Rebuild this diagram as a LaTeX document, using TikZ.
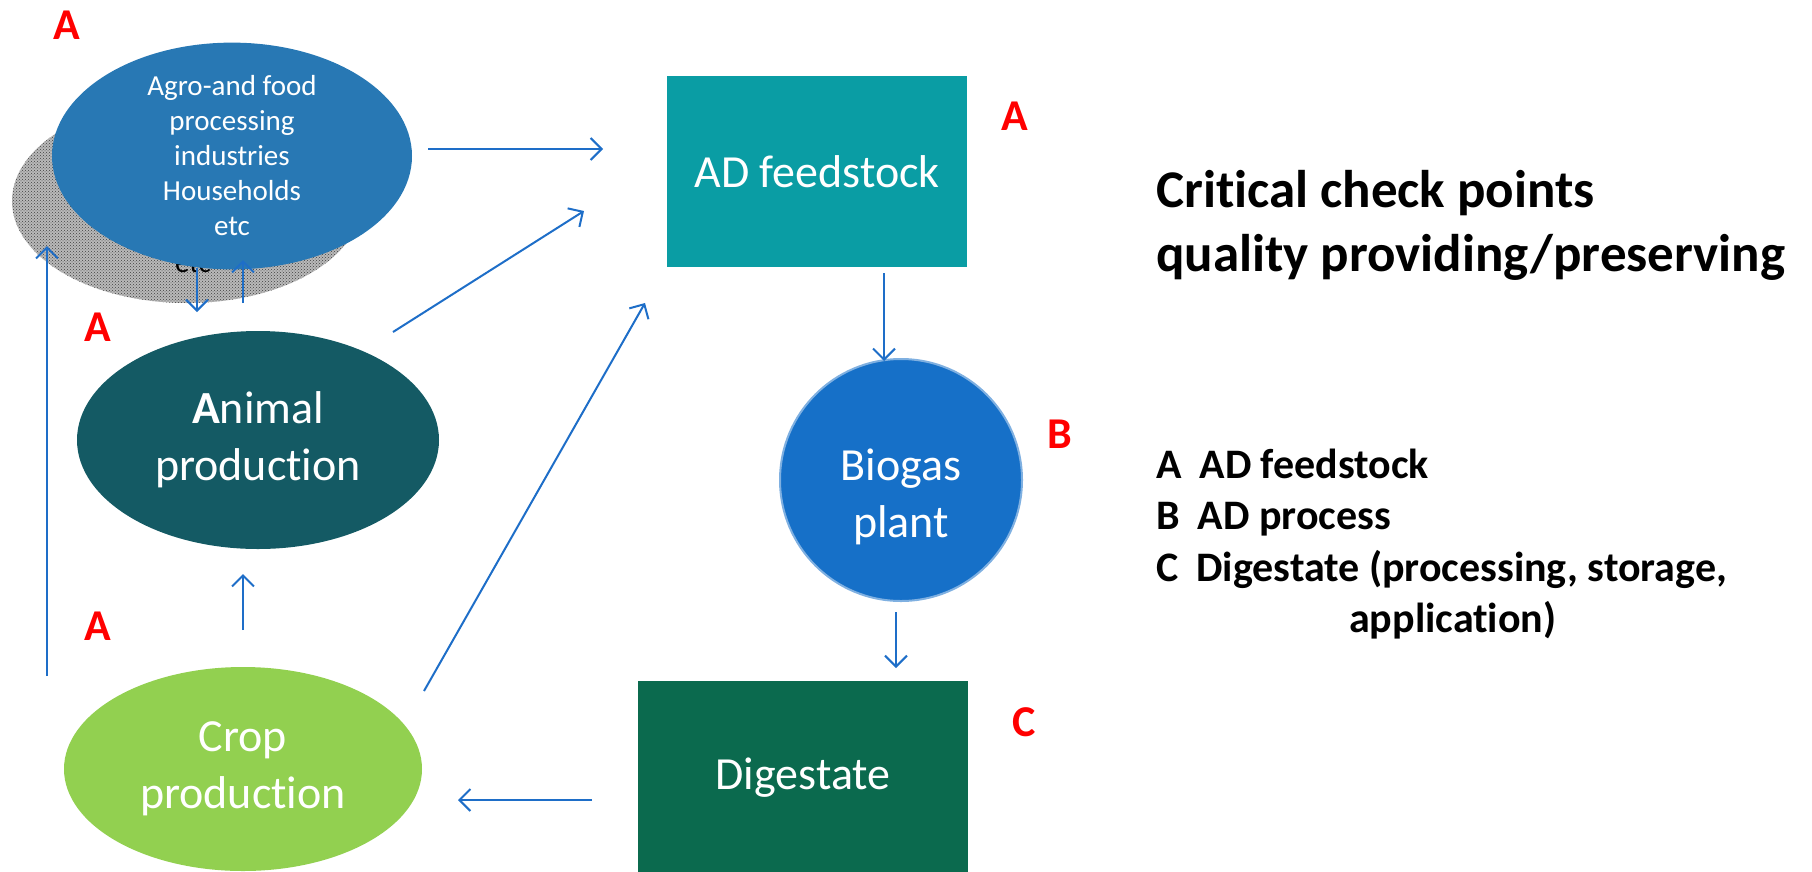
\documentclass[tikz,border=0pt]{standalone}
\usepackage{fontspec}
\setmainfont{Carlito}[Ligatures=NoCommon]
\usepackage{tikz}
\usetikzlibrary{shapes.geometric, patterns, arrows.meta, positioning}

\definecolor{agroblue}{RGB}{40,120,180}
\definecolor{feedteal}{RGB}{10,157,164}
\definecolor{animalteal}{RGB}{20,90,100}
\definecolor{cropgreen}{RGB}{146,208,80}
\definecolor{plantblue}{RGB}{22,112,200}
\definecolor{digestgreen}{RGB}{11,106,78}
\definecolor{arrowblue}{RGB}{30,110,200}

\begin{document}
\begin{tikzpicture}[x=1pt, y=-1pt,
          oval/.style = {ellipse, inner sep=0pt, text=white, align=center},
          box/.style = {rectangle, inner sep=0pt, text=white, align=center},
          big/.style = {font=\fontsize{46}{57}\selectfont},
          small/.style = {font=\fontsize{29}{35}\selectfont},
          flow/.style = {draw=arrowblue, line width=2pt, -{Straight Barb[length=11pt, width=22pt]}},
          chk/.style = {text=red, font=\fontsize{44}{44}\selectfont\bfseries}]
        \useasboundingbox (0,0) rectangle (1812,871);
        \node[oval, minimum width=350pt, minimum height=204pt,
              preaction={fill=gray!55}, pattern=crosshatch dots, pattern color=black!75] (shadow) at (187,201) {};
        \node[small, text=black] (shadowtext) at (193,263) {etc};
        \node[oval, small, fill=agroblue, minimum width=360pt, minimum height=222pt] (agro) at (232,156)
              {Agro-and food\\processing\\industries\\Households\\etc};
        \node[oval, big, fill=animalteal, minimum width=362pt, minimum height=218pt] (animal) at (258,440)
              {\textbf{A}nimal\\production};
        \node[oval, big, fill=cropgreen, minimum width=358pt, minimum height=204pt] (crop) at (243,769)
              {Crop\\production};
        \node[box, big, fill=feedteal, minimum width=300pt, minimum height=191pt] (feed) at (817,171.5) {AD feedstock};
        \node[circle, inner sep=0pt, fill=plantblue, draw=plantblue!55!white, line width=2pt,
              minimum size=242pt] (plant) at (901,480) {};
        \node[big, text=white, align=center] (planttext) at (901,497) {Biogas\\plant};
        \node[box, big, fill=digestgreen, minimum width=330pt, minimum height=194pt] (digest) at (803,778) {Digestate};
        % check point letters
        \foreach \x/\y/\l in {67/25/A, 98/327/A, 98/626/A, 1015/116/A, 1060/434/B, 1024/722/C}
                 {
                   \node[chk] (chk\x) at (\x,\y) {\l};
                 }
        \node[anchor=west, inner sep=0pt, align=left, font=\fontsize{53}{64}\selectfont\bfseries] (title) at (1156,225)
              {Critical check points\\quality providing/preserving};
        \node[anchor=west, inner sep=0pt, align=left, font=\fontsize{42}{51.5}\selectfont\bfseries] (legend) at (1156,544)
              {A\hspace{0.2em} AD feedstock\\B\hspace{0.2em} AD process\\C\hspace{0.2em} Digestate (processing, storage,\\\hspace*{193pt}application)};
        % arrow ends
        \coordinate (a1) at (428,149);  \coordinate (b1) at (603,149);
        \coordinate (a2) at (393,332);  \coordinate (b2) at (584,211);
        \coordinate (a3) at (424,691);  \coordinate (b3) at (645,303);
        \coordinate (a4) at (884,273);  \coordinate (b4) at (884,361);
        \coordinate (a5) at (896,612);  \coordinate (b5) at (896,668);
        \coordinate (a6) at (592,800);  \coordinate (b6) at (458,800);
        \coordinate (a7) at (243,630);  \coordinate (b7) at (243,574);
        \coordinate (a8) at (47,676);   \coordinate (b8) at (47,246);
        \coordinate (a9) at (197,268);  \coordinate (b9) at (197,312);
        \coordinate (a10) at (243,303); \coordinate (b10) at (243,260);
        \foreach \n in {1,...,10}
                 {
                   \draw[flow] (a\n) -- (b\n);
                 }
\end{tikzpicture}
\end{document}
